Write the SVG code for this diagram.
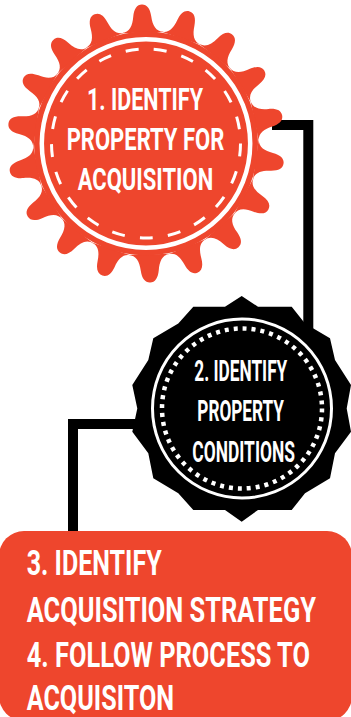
<svg xmlns="http://www.w3.org/2000/svg" xmlns:xlink="http://www.w3.org/1999/xlink" width="351" height="717" viewBox="0 0 351 717">
<style>
text{font-family:Roboto,"Liberation Sans",sans-serif;font-weight:700;fill:#fff;stroke:none}
.o{fill:#ee462d}
.conn{fill:none;stroke:#000;stroke-width:10}
</style>
<defs>
<path id="tooth" class="o" d="M-21,-111 C-13,-111.500 -10,-118 -9,-127 C-8,-135 -5,-139 0,-139 C5,-139 8,-135 9,-127 C10,-118 13,-111.500 21,-111 Z"/>
</defs>
<rect width="351" height="717" fill="#fff"/>
<g id="connectors">
<path class="conn" d="M272,125H308.300V335"/>
<path class="conn" d="M140,424H73V536"/>
</g>
<g id="node1">
<g transform="translate(146 143.500)">
<use xlink:href="#tooth" href="#tooth" transform="rotate(-1.700)"/>
<use xlink:href="#tooth" href="#tooth" transform="rotate(18.300)"/>
<use xlink:href="#tooth" href="#tooth" transform="rotate(38.300)"/>
<use xlink:href="#tooth" href="#tooth" transform="rotate(58.300)"/>
<use xlink:href="#tooth" href="#tooth" transform="rotate(78.300)"/>
<use xlink:href="#tooth" href="#tooth" transform="rotate(98.300)"/>
<use xlink:href="#tooth" href="#tooth" transform="rotate(118.300)"/>
<use xlink:href="#tooth" href="#tooth" transform="rotate(138.300)"/>
<use xlink:href="#tooth" href="#tooth" transform="rotate(158.300)"/>
<use xlink:href="#tooth" href="#tooth" transform="rotate(178.300)"/>
<use xlink:href="#tooth" href="#tooth" transform="rotate(198.300)"/>
<use xlink:href="#tooth" href="#tooth" transform="rotate(218.300)"/>
<use xlink:href="#tooth" href="#tooth" transform="rotate(238.300)"/>
<use xlink:href="#tooth" href="#tooth" transform="rotate(258.300)"/>
<use xlink:href="#tooth" href="#tooth" transform="rotate(278.300)"/>
<use xlink:href="#tooth" href="#tooth" transform="rotate(298.300)"/>
<use xlink:href="#tooth" href="#tooth" transform="rotate(318.300)"/>
<use xlink:href="#tooth" href="#tooth" transform="rotate(338.300)"/>
<circle class="o" r="112"/>
<circle r="104.200" fill="none" stroke="#fff" stroke-width="4.500"/>
<circle r="94.500" fill="none" stroke="#fff" stroke-width="3" stroke-dasharray="13 15.275"/>
</g>
<text transform="translate(87 110) scale(.72 1)" font-size="31" textLength="161.100" lengthAdjust="spacingAndGlyphs">1. IDENTIFY</text>
<text transform="translate(66.700 149.500) scale(.72 1)" font-size="31" textLength="218.800" lengthAdjust="spacingAndGlyphs">PROPERTY FOR</text>
<text transform="translate(77.700 190) scale(.72 1)" font-size="31" textLength="188.200" lengthAdjust="spacingAndGlyphs">ACQUISITION</text>
</g>
<g id="node2">
<polygon fill="#000" points="241.700,296 258,306.700 291.700,306.700 305,323.500 330,338.300 335,360 351,385 346.700,408.500 351,431.700 335,453.300 330,478.300 305,493.300 291.700,510 258,510 241.700,521.700 225,510 193.300,510 178.300,493.300 153.300,478.300 148.300,453.300 132.300,431.700 137.300,408.500 132.300,385 148.300,360 153.300,338.300 178.300,323.500 193.300,306.700 225,306.700"/>
<circle cx="242" cy="408.500" r="89.500" fill="none" stroke="#fff" stroke-width="3"/>
<circle cx="242" cy="408.500" r="80" fill="none" stroke="#fff" stroke-width="4.500" stroke-dasharray="4 4.976"/>
<text transform="translate(194.300 380.700) scale(.62 1)" font-size="30" textLength="150" lengthAdjust="spacingAndGlyphs">2. IDENTIFY</text>
<text transform="translate(197.300 420.700) scale(.62 1)" font-size="30" textLength="139.800" lengthAdjust="spacingAndGlyphs">PROPERTY</text>
<text transform="translate(192.300 461.700) scale(.62 1)" font-size="30" textLength="165.600" lengthAdjust="spacingAndGlyphs">CONDITIONS</text>
</g>
<g id="node3">
<rect class="o" x="-1" y="531" width="353" height="190" rx="25"/>
<text transform="translate(26.700 575) scale(.72 1)" font-size="35" textLength="187.500" lengthAdjust="spacingAndGlyphs">3. IDENTIFY</text>
<text transform="translate(26.700 621.700) scale(.72 1)" font-size="35" textLength="401.800" lengthAdjust="spacingAndGlyphs">ACQUISITION STRATEGY</text>
<text transform="translate(26.700 666.700) scale(.72 1)" font-size="35" textLength="393.500" lengthAdjust="spacingAndGlyphs">4. FOLLOW PROCESS TO</text>
<text transform="translate(26.700 709.500) scale(.72 1)" font-size="35" textLength="204.600" lengthAdjust="spacingAndGlyphs">ACQUISITON</text>
</g>
</svg>
